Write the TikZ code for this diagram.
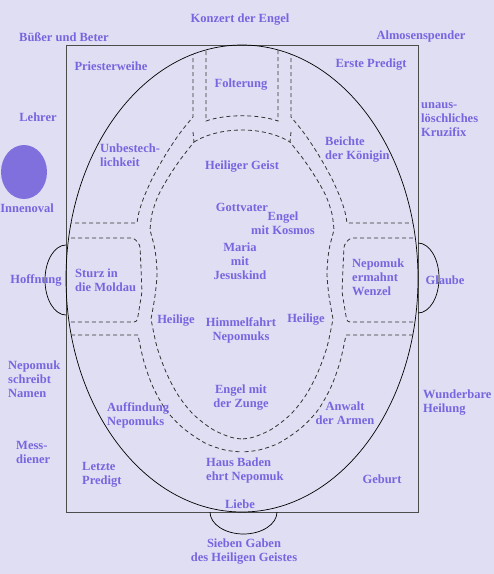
\documentclass[tikz,border=0pt]{standalone}
\usepackage{fontspec}
\setmainfont{Liberation Serif}
\usepackage{xcolor}
\usepackage{tikz}
\usetikzlibrary{calc}
\definecolor{bg}{RGB}{224,222,242}
\definecolor{txt}{RGB}{118,102,224}
\definecolor{oval}{RGB}{128,112,222}

\begin{document}
\begin{tikzpicture}[x=1pt, y=-1pt, lbl/.style={text=txt, font=\bfseries\fontsize{12.5}{14}\selectfont, inner sep=0pt, align=center}, lft/.style={lbl, anchor=west, align=left}, wall/.style={draw=black!80, line width=0.8pt, dash pattern=on 4pt off 3pt}, outline/.style={draw=black, line width=0.7pt}]
\fill[bg] (0,0) rectangle (494,574);
\useasboundingbox (0,0) rectangle (494,574);
\draw[draw=black!70, line width=0.8pt] (66,45) rectangle (418,512);
\draw[outline] (242,278.5) ellipse [x radius=176pt, y radius=233.5pt];
\begin{scope}
\clip (0,0) rectangle (66,574);
\draw[outline] (66,280) ellipse [x radius=21pt, y radius=35pt];
\end{scope}
\begin{scope}
\clip (418,0) rectangle (494,574);
\draw[outline] (418,278) ellipse [x radius=21pt, y radius=35pt];
\end{scope}
\begin{scope}
\clip (0,512) rectangle (494,574);
\draw[outline] (243.5,512) ellipse [x radius=33.5pt, y radius=22pt];
\end{scope}
\begin{scope}
\clip (242,278.5) ellipse [x radius=176pt, y radius=233.5pt];
\foreach \o/\s in {0/1, 484/-1}{
\begin{scope}[xshift=\o pt, xscale=\s]
\draw[wall] (193,30) -- (193,117) -- plot[smooth] coordinates {(193,117) (180,133) (166,154) (153,177) (144,197) (139,212) (137,223)} -- (50,223);
\draw[wall, rounded corners=3pt] (50,238) -- (134,238) -- (140,245) -- (142,292) -- (137,322) -- (50,322);
\draw[wall] (50,335) -- (138,335) -- plot[smooth] coordinates {(138,335) (144,362) (153,387) (166,410) (183,428) (205,443) (225,450) (242,452)};
\draw[wall] (193,132) -- (194,142) -- plot[smooth] coordinates {(194,142) (180,160) (168,178) (158,196) (152,214) (150,230)} -- plot[smooth] coordinates {(150,230) (155,250) (157,273) (155,296) (151,319)} -- plot[smooth] coordinates {(151,319) (157,347) (166,372) (178,395) (193,414) (212,429) (230,437) (242,439)};
\end{scope}
}
\draw[wall] (206,30) -- (206,121) .. controls (226,114) and (258,114) .. (278,121) -- (278,30);
\draw[wall] (194,142) .. controls (220,126) and (264,126) .. (290,142);
\end{scope}
\fill[oval] (24,172) ellipse [x radius=23pt, y radius=27pt];
\node[lbl] (konzert) at (240,20) {Konzert der Engel};
\node[lbl] (buesser) at (64,37) {Büßer und Beter};
\node[lbl] (almosen) at (421,36) {Almosenspender};
\node[lbl] (priester) at (111,66) {Priesterweihe};
\node[lbl] (folter) at (241,85) {Folterung};
\node[lbl] (erste) at (371,65) {Erste Predigt};
\node[lbl] (lehrer) at (38,117) {Lehrer};
\node[lft] (kruzifix) at (421,120) {unaus-\\löschliches\\Kruzifix};
\node[lft] (unbestech) at (100,155) {Unbestech-\\lichkeit};
\node[lft] (beichte) at (325,150) {Beichte\\der Königin};
\node[lbl] (geist) at (242,167) {Heiliger Geist};
\node[lbl] (gottvater) at (242,207) {Gottvater};
\node[lbl] (kosmos) at (283,223) {Engel\\mit Kosmos};
\node[lbl] (maria) at (240,261) {Maria\\mit\\Jesuskind};
\node[lbl] (innenoval) at (27,208) {Innenoval};
\node[lft] (sturz) at (75,280) {Sturz in\\die Moldau};
\node[lbl] (hoffnung) at (36,280) {Hoffnung};
\node[lft] (wenzel) at (352,277) {Nepomuk\\ermahnt\\Wenzel};
\node[lbl] (glaube) at (445,280) {Glaube};
\node[lbl] (heiligeL) at (176,321) {Heilige};
\node[lbl] (himmelfahrt) at (241,330) {Himmelfahrt\\Nepomuks};
\node[lbl] (heiligeR) at (306,320) {Heilige};
\node[lft] (namen) at (8,379) {Nepomuk\\schreibt\\Namen};
\node[lft] (heilung) at (423,403) {Wunderbare\\Heilung};
\node[lbl] (zunge) at (241,398) {Engel mit\\der Zunge};
\node[lft] (auffindung) at (107,415) {Auffindung\\Nepomuks};
\node[lbl] (anwalt) at (345,413) {Anwalt\\der Armen};
\node[lft] (messdiener) at (16,452) {Mess-\\diener};
\node[lft] (letzte) at (82,475) {Letzte\\Predigt};
\node[lft] (baden) at (206,470) {Haus Baden\\ehrt Nepomuk};
\node[lbl] (geburt) at (382,479) {Geburt};
\node[lbl] (liebe) at (240,504) {Liebe};
\node[lbl] (gaben) at (244,552) {Sieben Gaben\\des Heiligen Geistes};
\end{tikzpicture}
\end{document}
